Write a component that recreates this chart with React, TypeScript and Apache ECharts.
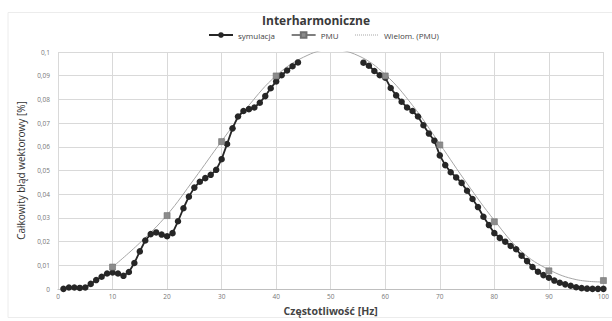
import React, { useEffect, useRef } from "react";
import * as echarts from "echarts";

const simX: number[] = [
  1, 2, 3, 4, 5, 6, 7, 8, 9, 10, 11, 12, 13, 14, 15, 16, 17, 18, 19, 20, 21, 22, 23, 24, 25,
  26, 27, 28, 29, 30, 31, 32, 33, 34, 35, 36, 37, 38, 39, 40, 41, 42, 43, 44,
  56, 57, 58, 59, 60, 61, 62, 63, 64, 65, 66, 67, 68, 69, 70, 71, 72, 73, 74, 75,
  76, 77, 78, 79, 80, 81, 82, 83, 84, 85, 86, 87, 88, 89, 90, 91, 92, 93, 94, 95,
  96, 97, 98, 99, 100,
];
const simY: number[] = [
  0.0001, 0.0007, 0.0007, 0.0005, 0.0007, 0.0022, 0.0038, 0.0052, 0.0066, 0.007,
  0.0066, 0.0056, 0.0072, 0.011, 0.0159, 0.0205, 0.0232, 0.0239, 0.023, 0.0223,
  0.0236, 0.0286, 0.0341, 0.039, 0.0428, 0.0453, 0.0468, 0.0482, 0.0503, 0.0548,
  0.0612, 0.0678, 0.0728, 0.0751, 0.0759, 0.0766, 0.0786, 0.0814, 0.0847, 0.0876,
  0.0902, 0.0922, 0.094, 0.0956,
  0.0955, 0.0942, 0.092, 0.0902, 0.0892, 0.0848, 0.0817, 0.079, 0.0766, 0.0751,
  0.0728, 0.0691, 0.0656, 0.0626, 0.0564, 0.0523, 0.0493, 0.0471, 0.0448, 0.0415,
  0.038, 0.0346, 0.0305, 0.027, 0.0236, 0.0216, 0.02, 0.0182, 0.0168, 0.0141,
  0.0118, 0.0093, 0.0073, 0.0059, 0.0048, 0.0036, 0.0027, 0.002, 0.0014, 0.0008,
  0.0004, 0.0002, 0.0001, 0.0001, 0.0001,
];

const pmuX: number[] = [10, 20, 30, 40, 60, 70, 80, 90, 100];
const pmuY: number[] = [0.0093, 0.031, 0.0622, 0.0899, 0.0899, 0.0608, 0.0284, 0.0077, 0.0036];

const polyX: number[] = [10, 15, 20, 25, 30, 35, 40, 45, 50, 55, 60, 65, 70, 75, 80, 85, 90, 95, 100];
const polyY: number[] = [
  0.0093, 0.0195, 0.0313, 0.0465, 0.0624, 0.0775, 0.09, 0.0978, 0.101, 0.0985,
  0.0905, 0.0775, 0.0612, 0.0445, 0.029, 0.0158, 0.0082, 0.004, 0.003,
];

const seriesNames: string[] = ["symulacja", "PMU", "Wielom. (PMU)"];
const titleText = "Interharmoniczne";
const xName = "Częstotliwość [Hz]";
const yName = "Całkowity błąd wektorowy [%]";

function withGaps(xs: number[], ys: number[]): (number | null)[][] {
  const out: (number | null)[][] = [];
  for (let i = 0; i < xs.length; i++) {
    if (i > 0 && xs[i] - xs[i - 1] > 1) out.push([(xs[i] + xs[i - 1]) / 2, null]);
    out.push([xs[i], ys[i]]);
  }
  return out;
}

export default function App() {
  const ref = useRef<HTMLDivElement>(null);
  useEffect(() => {
    if (!ref.current) return;
    const chart = echarts.init(ref.current, undefined, { renderer: "svg" });
    const font = "'Open Sans', 'Noto Sans', sans-serif";
    chart.setOption({
      animation: false,
      textStyle: { fontFamily: font },
      graphic: [
        {
          type: "rect",
          shape: { x: 8, y: 12.5, width: 610, height: 305 },
          style: { fill: "none", stroke: "#ececec", lineWidth: 1 },
          silent: true,
        },
      ],
      title: {
        text: titleText,
        left: 316,
        textAlign: "center",
        top: 14,
        padding: 0,
        textStyle: {
          fontSize: 12,
          lineHeight: 13,
          fontWeight: "bold",
          color: "#3a3a3a",
          fontFamily: font,
        },
      },
      legend: {
        top: 31,
        left: 208,
        padding: 0,
        itemGap: 16,
        itemWidth: 24,
        itemHeight: 7,
        textStyle: { fontSize: 8, color: "#444", fontFamily: font },
        data: [
          { name: seriesNames[0] },
          { name: seriesNames[1], lineStyle: { width: 1.5, color: "#555", opacity: 1 } },
          {
            name: seriesNames[2],
            itemStyle: { opacity: 0 },
            lineStyle: { type: "dotted", width: 1, color: "#a6a6a6" },
          },
        ],
      },
      grid: { left: 58, right: 5, top: 52, bottom: 25, containLabel: false },
      xAxis: {
        type: "value",
        min: 0,
        max: 100,
        interval: 10,
        name: xName,
        nameLocation: "middle",
        nameGap: 13,
        nameTextStyle: { fontSize: 10.5, fontWeight: "bold", color: "#444", fontFamily: font },
        axisLine: { show: true, lineStyle: { color: "#bfbfbf" } },
        axisTick: { show: false },
        axisLabel: { fontSize: 6.5, color: "#777", margin: 4 },
        splitLine: { show: true, lineStyle: { color: "#d9d9d9", width: 1 } },
      },
      yAxis: {
        type: "value",
        min: 0,
        max: 0.1,
        interval: 0.01,
        name: yName,
        nameLocation: "middle",
        nameGap: 32,
        nameTextStyle: { fontSize: 10, color: "#333", fontFamily: font },
        axisLine: { show: false },
        axisTick: { show: false },
        axisLabel: {
          fontSize: 6.5,
          color: "#777",
          margin: 8,
          formatter: (v: number) => String(Math.round(v * 100) / 100).replace(".", ","),
        },
        splitLine: { show: true, lineStyle: { color: "#d9d9d9", width: 1 } },
      },
      series: [
        {
          name: seriesNames[2],
          type: "line",
          data: polyX.map((x, i) => [x, polyY[i]]),
          smooth: 0.4,
          showSymbol: false,
          symbol: "none",
          clip: true,
          lineStyle: { color: "#a6a6a6", width: 1, type: "solid" },
          itemStyle: { color: "#a6a6a6" },
          z: 1,
        },
        {
          name: seriesNames[0],
          type: "line",
          data: withGaps(simX, simY),
          connectNulls: false,
          symbol: "circle",
          symbolSize: 6.5,
          clip: true,
          lineStyle: { color: "#262626", width: 1.8 },
          itemStyle: { color: "#262626" },
          z: 3,
        },
        {
          name: seriesNames[1],
          type: "line",
          data: pmuX.map((x, i) => [x, pmuY[i]]),
          symbol: "rect",
          symbolSize: 6,
          lineStyle: { width: 0, opacity: 0 },
          itemStyle: { color: "#8c8c8c", borderColor: "#6f6f6f", borderWidth: 0.6 },
          z: 4,
        },
      ],
    });
    return () => chart.dispose();
  }, []);
  return (
    <div
      ref={ref}
      style={{ position: "fixed", left: 0, top: 0, width: 612, height: 321, background: "#fff" }}
    />
  );
}
